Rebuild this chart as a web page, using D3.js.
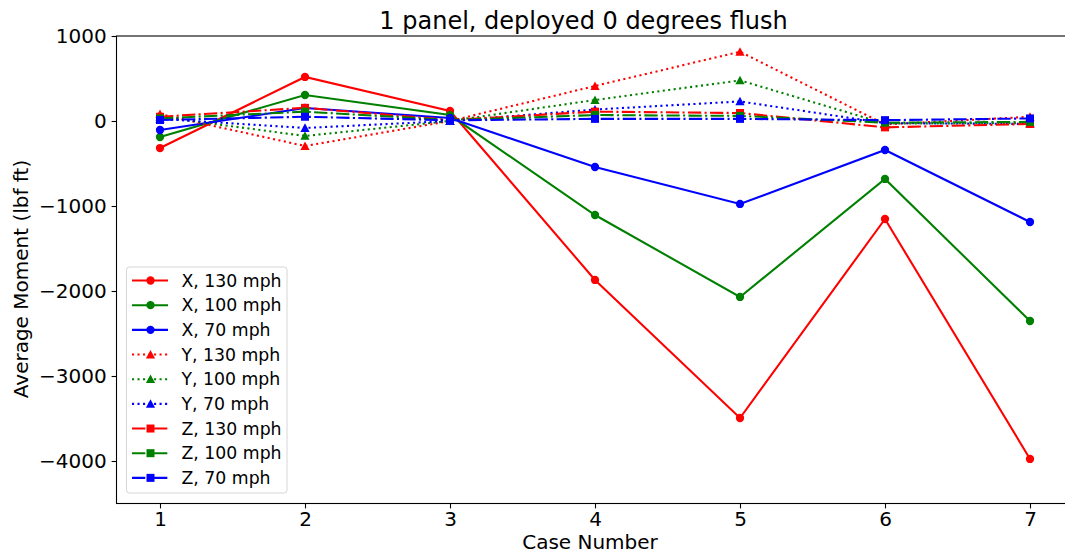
<!DOCTYPE html>
<html>
<head>
<meta charset="utf-8">
<script src="https://cdn.jsdelivr.net/npm/d3@7"></script>
<style>
html,body{margin:0;padding:0;background:#fff;}
svg{display:block;font-family:"DejaVu Sans",sans-serif;}
</style>
</head>
<body>
<svg id="chart" width="1065" height="554"></svg>
<script>
const cases = [1, 2, 3, 4, 5, 6, 7];
const yTicks = [1000, 0, -1000, -2000, -3000, -4000];
const xTicks = [1, 2, 3, 4, 5, 6, 7];

const x130 = [-318, 518, 118, -1870, -3494, -1153, -3976];
const x100 = [-188, 306, 70, -1106, -2070, -682, -2353];
const x70  = [-106, 153, 35, -541, -976, -341, -1188];
const y130 = [80, -294, 0, 412, 815, -40, 50];
const y100 = [50, -176, 0, 247, 478, -30, -25];
const y70  = [25, -82, 0, 135, 230, -25, -35];
const z130 = [50, 155, 12, 110, 94, -75, -35];
const z100 = [30, 110, 10, 70, 60, -20, -10];
const z70  = [12, 50, 8, 25, 25, 10, 30];

const seriesNames = ["X, 130 mph","X, 100 mph","X, 70 mph","Y, 130 mph","Y, 100 mph","Y, 70 mph","Z, 130 mph","Z, 100 mph","Z, 70 mph"];
const seriesValues = [x130, x100, x70, y130, y100, y70, z130, z100, z70];
const seriesColors = ["#ff0000","#008000","#0000ff","#ff0000","#008000","#0000ff","#ff0000","#008000","#0000ff"];
const seriesDash = ["none","none","none","2.08,3.43","2.08,3.43","2.08,3.43","13.3,3.33,2.08,3.33","13.3,3.33,2.08,3.33","13.3,3.33,2.08,3.33"];
const seriesMarker = ["circle","circle","circle","triangle","triangle","triangle","square","square","square"];

const svg = d3.select("#chart");
const L = 116.5, R = 1073.5, T = 36, B = 503.5;
const xs = d3.scaleLinear().domain([0.7, 7.3]).range([L, R]);
const ys = d3.scaleLinear().domain([-4500, 1000]).range([B, T]);

const plot = svg.append("g");
const sym = {
  circle: d3.symbol().type(d3.symbolCircle).size(Math.PI * 4.15 * 4.15),
  square: d3.symbol().type(d3.symbolSquare).size(64)
};
function markerPath(kind){
  if (kind === "triangle") {
    const s = 4.6;
    return `M0,${-s}L${s},${s*0.85}L${-s},${s*0.85}Z`;
  }
  return sym[kind]();
}

const line = d3.line().x((d,i)=>xs(cases[i])).y(d=>ys(d));
seriesValues.forEach((vals, k) => {
  const g = plot.append("g");
  g.append("path").attr("d", line(vals)).attr("fill","none")
    .attr("stroke", seriesColors[k]).attr("stroke-width", 2.08)
    .attr("stroke-dasharray", seriesDash[k]);
  g.selectAll("path.m").data(vals).enter().append("path").attr("class","m")
    .attr("d", markerPath(seriesMarker[k]))
    .attr("transform", (d,i)=>`translate(${xs(cases[i])},${ys(d)})`)
    .attr("fill", seriesColors[k]);
});

// spines
const ax = svg.append("g");
ax.append("rect").attr("x", L).attr("y", T).attr("width", R-L).attr("height", B-T)
  .attr("fill","none").attr("stroke","#000").attr("stroke-width",1.1);

// axes
const yAxis = d3.axisLeft(ys).tickValues(yTicks).tickSize(4.9).tickPadding(4.9)
  .tickFormat(d => d < 0 ? "\u2212" + Math.abs(d) : String(d));
const gy = svg.append("g").attr("transform", `translate(${L},0)`).call(yAxis);
gy.select(".domain").remove();
gy.selectAll("text").attr("font-size", "20px").attr("fill","#000").attr("font-family","DejaVu Sans");
gy.selectAll("line").attr("stroke","#000").attr("stroke-width",1.1);

const xAxis = d3.axisBottom(xs).tickValues(xTicks).tickSize(4.9).tickPadding(3).tickFormat(d3.format("d"));
const gx = svg.append("g").attr("transform", `translate(0,${B})`).call(xAxis);
gx.select(".domain").remove();
gx.selectAll("text").attr("font-size", "20px").attr("fill","#000").attr("font-family","DejaVu Sans");
gx.selectAll("line").attr("stroke","#000").attr("stroke-width",1.1);

// labels
svg.append("text").attr("x", 590).attr("y", 549).attr("text-anchor","middle")
  .attr("font-size","20px").text("Case Number");
svg.append("text").attr("transform", "translate(28,279) rotate(-90)").attr("text-anchor","middle")
  .attr("font-size","20px").text("Average Moment (lbf ft)");
svg.append("text").attr("x", 583.5).attr("y", 29).attr("text-anchor","middle")
  .attr("font-size","24px").text("1 panel, deployed 0 degrees flush");

// legend
const lg = svg.append("g");
lg.append("rect").attr("x", 126.5).attr("y", 267).attr("width", 160.5).attr("height", 226)
  .attr("rx", 3).attr("fill","#fff").attr("fill-opacity",0.8).attr("stroke","#d6d6d6").attr("stroke-width",1);
seriesNames.forEach((name, k) => {
  const yy = 280.5 + k * 24.67;
  lg.append("line").attr("x1", 132).attr("x2", 168).attr("y1", yy).attr("y2", yy)
    .attr("stroke", seriesColors[k]).attr("stroke-width", 2.08).attr("stroke-dasharray", seriesDash[k]);
  lg.append("path").attr("d", markerPath(seriesMarker[k])).attr("transform", `translate(150.5,${yy})`)
    .attr("fill", seriesColors[k]);
  lg.append("text").attr("x", 181.5).attr("y", yy).attr("dy","0.36em")
    .attr("font-size","17.3px").attr("fill","#000").text(name);
});
</script>
</body>
</html>
